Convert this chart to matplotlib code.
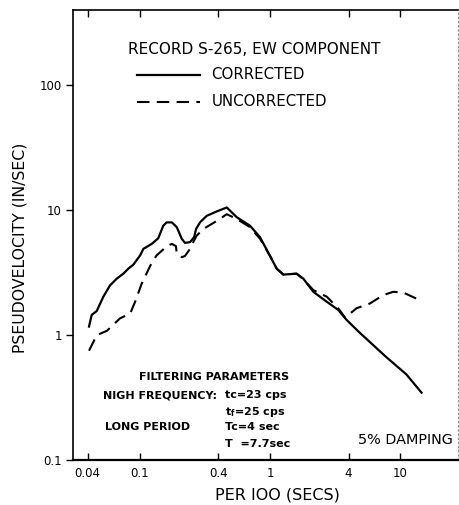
import numpy as np
import matplotlib
matplotlib.use('Agg')
import matplotlib.pyplot as plt

# response spectrum, record S-265 EW component (period in s, PSV in in/sec)
period_corr = [0.041, 0.0418, 0.043, 0.047, 0.0528, 0.0594, 0.0669, 0.0751, 0.082, 0.0896,
               0.101, 0.107, 0.124, 0.139, 0.152, 0.161, 0.177, 0.193, 0.211, 0.223,
               0.244, 0.262, 0.271, 0.291, 0.327, 0.391, 0.466, 0.556, 0.703, 0.838,
               1.0, 1.125, 1.265, 1.6, 1.8, 2.147, 2.72, 3.33, 3.87, 4.89,
               7.8, 11.1, 14.5]
psv_corr = [1.17, 1.28, 1.45, 1.56, 2.03, 2.5, 2.83, 3.1, 3.4, 3.66,
            4.34, 4.9, 5.37, 5.95, 7.5, 7.98, 7.98, 7.3, 5.88, 5.47,
            5.55, 6.07, 7.06, 8.0, 9.0, 9.77, 10.5, 8.78, 7.5, 6.07,
            4.3, 3.4, 3.05, 3.1, 2.83, 2.22, 1.85, 1.59, 1.32, 1.04,
            0.665, 0.484, 0.346]

period_unc = [0.041, 0.047, 0.0561, 0.0708, 0.0848, 0.0925, 0.104, 0.121, 0.135, 0.162,
              0.177, 0.19, 0.193, 0.211, 0.223, 0.244, 0.258, 0.274, 0.308, 0.391,
              0.466, 0.556, 0.703, 0.838, 1.0, 1.125, 1.265, 1.6, 1.8, 2.147,
              2.72, 3.33, 3.76, 4.61, 5.83, 7.38, 8.8, 10.5, 14.1]
psv_unc = [0.75, 1.0, 1.08, 1.36, 1.49, 1.85, 2.59, 3.6, 4.34, 5.15,
           5.37, 5.15, 4.47, 4.2, 4.3, 4.9, 5.55, 6.25, 7.06, 8.2,
           9.28, 8.5, 7.3, 5.9, 4.3, 3.4, 3.05, 3.1, 2.8, 2.29,
           2.03, 1.64, 1.38, 1.64, 1.79, 2.09, 2.22, 2.19, 1.9]

xticks = [0.04, 0.1, 0.4, 1, 4, 10]
xtick_labels = ['0.04', '0.1', '0.4', '1', '4', '10']
yticks = [0.1, 1, 10, 100]
ytick_labels = ['0.1', '1', '10', '100']

fig = plt.figure(figsize=(4.6, 5.05), dpi=100)
ax = fig.add_axes([0.1587, 0.0891, 0.8370, 0.8911])

ax.plot(period_corr, psv_corr, color='black', linewidth=1.6, solid_joinstyle='round')
ax.plot(period_unc, psv_unc, color='black', linewidth=1.5, dashes=(6, 3.5))

ax.set_xscale('log')
ax.set_yscale('log')
ax.set_xlim(0.0309, 27.6)
ax.set_ylim(0.1, 400)

ax.set_xticks(xticks)
ax.set_xticklabels(xtick_labels)
ax.set_yticks(yticks)
ax.set_yticklabels(ytick_labels)
ax.minorticks_off()
ax.tick_params(axis='x', direction='in', length=5, width=1, pad=5, labelsize=8.5, top=True)
ax.tick_params(axis='y', direction='out', length=5, width=1, pad=3, labelsize=8.5)

for side in ['left', 'top']:
    ax.spines[side].set_linewidth(1.2)
ax.spines['bottom'].set_linewidth(1.6)
ax.spines['right'].set_linewidth(0.6)
ax.spines['right'].set_linestyle((0, (2, 3)))
ax.spines['right'].set_color('#777777')

# axis titles placed in figure pixels
fig.text(277 / 460, 1 - 495 / 505, 'PER IOO (SECS)', fontsize=11.5,
         ha='center', va='center')
fig.text(20 / 460, 1 - 248 / 505, 'PSEUDOVELOCITY (IN/SEC)', fontsize=11.3,
         rotation=90, ha='center', va='center')

# header and key inside the frame
ax.text(0.142, 0.912, 'RECORD S-265, EW COMPONENT', transform=ax.transAxes,
        fontsize=11, va='center')
key_x = [0.165, 0.330]
ax.plot(np.array(key_x) - 0.0, [0.856, 0.856], transform=ax.transAxes,
        color='black', linewidth=1.6)
ax.plot(key_x, [0.796, 0.796], transform=ax.transAxes, color='black', linewidth=1.5,
        dashes=(6, 3.5))
ax.text(0.36, 0.856, 'CORRECTED', transform=ax.transAxes, fontsize=10.8, va='center')
ax.text(0.36, 0.796, 'UNCORRECTED', transform=ax.transAxes, fontsize=10.8, va='center')

# filter settings
fs = 8
ax.text(0.171, 0.184, 'FILTERING PARAMETERS', transform=ax.transAxes,
        fontsize=fs, fontweight='bold', va='center')
ax.text(0.078, 0.144, 'NIGH FREQUENCY:', transform=ax.transAxes,
        fontsize=fs, fontweight='bold', va='center')
ax.text(0.395, 0.144, 'tc=23 cps', transform=ax.transAxes,
        fontsize=fs, fontweight='bold', va='center')
ax.text(0.395, 0.106, r't$_\mathbf{f}$=25 cps', transform=ax.transAxes,
        fontsize=fs, fontweight='bold', va='center')
ax.text(0.083, 0.073, 'LONG PERIOD', transform=ax.transAxes,
        fontsize=fs, fontweight='bold', va='center')
ax.text(0.395, 0.073, 'Tc=4 sec', transform=ax.transAxes,
        fontsize=fs, fontweight='bold', va='center')
ax.text(0.395, 0.035, 'T  =7.7sec', transform=ax.transAxes,
        fontsize=fs, fontweight='bold', va='center')
ax.text(0.74, 0.045, '5% DAMPING', transform=ax.transAxes, fontsize=10.4, va='center')

fig.savefig('out.png', dpi=100)
